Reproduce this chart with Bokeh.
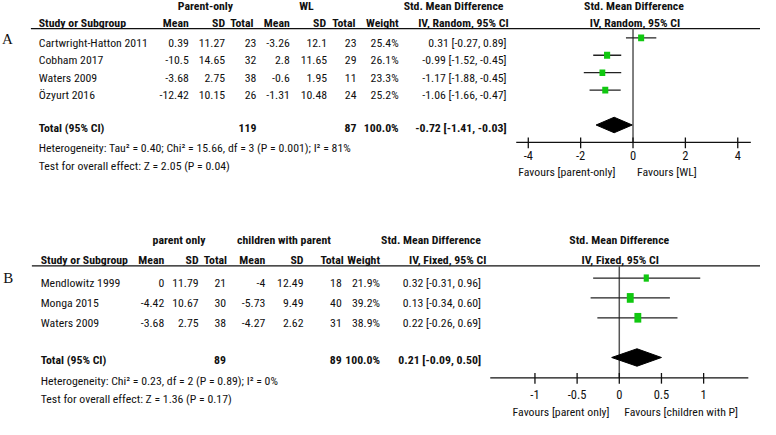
from bokeh.plotting import figure
from bokeh.models import Range1d
from bokeh.core.properties import value
from bokeh.embed import file_html
from bokeh.resources import INLINE

# ---------------- Panel A data ----------------
studies_a = ["Cartwright-Hatton 2011", "Cobham 2017", "Waters 2009", "Özyurt 2016"]
mean1_a = [0.39, -10.5, -3.68, -12.42]
sd1_a = [11.27, 14.65, 2.75, 10.15]
n1_a = [23, 32, 38, 26]
mean2_a = [-3.26, 2.8, -0.6, -1.31]
sd2_a = [12.1, 11.65, 1.95, 10.48]
n2_a = [23, 29, 11, 24]
weight_a = [25.4, 26.1, 23.3, 25.2]
smd_a = [0.31, -0.99, -1.17, -1.06]
lo_a = [-0.27, -1.52, -1.88, -1.66]
hi_a = [0.89, -0.45, -0.45, -0.47]
total_a = [-0.72, -1.41, -0.03]
total_n_a = [119, 87]
ticks_a = [-4, -2, 0, 2, 4]
groups_a = ["Parent-only", "WL"]
favours_a = ["Favours [parent-only]", "Favours [WL]"]
het_a = "Heterogeneity: Tau² = 0.40; Chi² = 15.66, df = 3 (P = 0.001); I² = 81%"
test_a = "Test for overall effect: Z = 2.05 (P = 0.04)"

# ---------------- Panel B data ----------------
studies_b = ["Mendlowitz 1999", "Monga 2015", "Waters 2009"]
mean1_b = [0, -4.42, -3.68]
sd1_b = [11.79, 10.67, 2.75]
n1_b = [21, 30, 38]
mean2_b = [-4, -5.73, -4.27]
sd2_b = [12.49, 9.49, 2.62]
n2_b = [18, 40, 31]
weight_b = [21.9, 39.2, 38.9]
smd_b = [0.32, 0.13, 0.22]
lo_b = [-0.31, -0.34, -0.26]
hi_b = [0.96, 0.60, 0.69]
total_b = [0.21, -0.09, 0.50]
total_n_b = [89, 89]
ticks_b = [-1, -0.5, 0, 0.5, 1]
groups_b = ["parent only", "children with parent"]
favours_b = ["Favours [parent only]", "Favours [children with P]"]
het_b = "Heterogeneity: Chi² = 0.23, df = 2 (P = 0.89); I² = 0%"
test_b = "Test for overall effect: Z = 1.36 (P = 0.17)"

FONT = "Roboto Condensed"
SERIF = "Liberation Serif"
GREEN = "#10c810"
INK = "#111111"
FS = "11.8px"

# page-layout frame (reference pixel units)
X0, X1 = 1.0, 776.0
Y0, Y1 = 0.5, 433.0

p = figure(width=760, height=419, x_range=Range1d(X0, X1), y_range=Range1d(Y1, Y0),
           output_backend="svg", toolbar_location=None, min_border=0,
           x_axis_location=None, y_axis_location=None, outline_line_color=None,
           title=None)
p.grid.visible = False

# forest-plot scales (SMD units): zero position and pixels per unit on the page
ZA, KA = 646.0, 26.7
ZB, KB = 632.0, 86.0
p.extra_x_ranges = {
    "fa": Range1d((X0 - ZA) / KA, (X1 - ZA) / KA),
    "fb": Range1d((X0 - ZB) / KB, (X1 - ZB) / KB),
}


def txt(x, y, texts, align="left", bold=False, size=FS, font=FONT, rng="default"):
    n = len(texts)
    xs = x if isinstance(x, list) else [x] * n
    ys = y if isinstance(y, list) else [y] * n
    p.text(x=xs, y=ys, text=texts, text_align=align, text_baseline="middle",
           text_font=value(font), text_font_size=size,
           text_font_style="bold" if bold else "normal", text_color=INK,
           x_range_name=rng)


def fmt(v):
    return f"{v:g}"


def ci(e, l, h):
    return f"{e:.2f} [{l:.2f}, {h:.2f}]"


def panel(label, label_xy, studies, m1, s1, n1, m2, s2, n2, w, smd, lo, hi, tot, tot_n,
          ticks, groups, favours, het, test, method, L, rng):
    rows = [L["row0"] + L["step"] * i for i in range(len(studies))]
    # panel label
    txt(label_xy[0], label_xy[1], [label], align="center", font=SERIF, size="15px")
    # group headers
    txt(L["g1"], L["h1"], [groups[0]], align="center", bold=True)
    txt(L["g2"], L["h1"], [groups[1]], align="center", bold=True)
    txt(L["smd_c"], L["h1"], ["Std. Mean Difference"], align="center", bold=True)
    txt(L["fsmd_c"], L["h1"], ["Std. Mean Difference"], align="center", bold=True)
    # column headers
    txt(L["name"], L["h2"], ["Study or Subgroup"], bold=True)
    hc = L["hcols"]
    txt(hc, L["h2"], ["Mean", "SD", "Total", "Mean", "SD", "Total", "Weight"], align="right", bold=True)
    txt(L["iv_c"], L["h2"], [method], align="center", bold=True)
    txt(L["fiv_c"], L["h2"], [method], align="center", bold=True)
    # header rule
    p.segment(x0=[L["rule0"]], y0=[L["rule"]], x1=[X1], y1=[L["rule"]], line_color=INK, line_width=1.3)
    # study rows
    c = L["cols"]
    txt(L["name"], rows, studies)
    txt(c[0], rows, [fmt(v) for v in m1], align="right")
    txt(c[1], rows, [fmt(v) for v in s1], align="right")
    txt(c[2], rows, [str(v) for v in n1], align="right")
    txt(c[3], rows, [fmt(v) for v in m2], align="right")
    txt(c[4], rows, [fmt(v) for v in s2], align="right")
    txt(c[5], rows, [str(v) for v in n2], align="right")
    txt(c[6], rows, [f"{v:.1f}%" for v in w], align="right")
    txt(c[7], rows, [ci(a, b, d) for a, b, d in zip(smd, lo, hi)], align="right")
    # total row
    ty = L["total"]
    txt(L["name"], ty, ["Total (95% CI)"], bold=True)
    txt(c[2], ty, [str(tot_n[0])], align="right", bold=True)
    txt(c[5], ty, [str(tot_n[1])], align="right", bold=True)
    txt(c[6], ty, [f"{sum(w):.1f}%"], align="right", bold=True)
    txt(c[7], ty, [ci(*tot)], align="right", bold=True)
    txt(L["name"], L["het"], [het])
    txt(L["name"], L["test"], [test])

    # forest plot
    ay = L["axis"]
    p.segment(x0=[0], y0=[L["rule"]], x1=[0], y1=[ay], line_color="#555555", line_width=1.5,
              x_range_name=rng)
    sy = [r - 5 for r in rows]
    p.segment(x0=lo, y0=sy, x1=hi, y1=sy, line_color="#222222", line_width=1.3, x_range_name=rng)
    p.rect(x=smd, y=sy, width=[L["kw"] * v ** 0.5 for v in w], height=[L["kh"] * v ** 0.5 for v in w],
           width_units="screen", height_units="screen", fill_color=GREEN, line_color=None,
           x_range_name=rng)
    dc, dh = L["diam"], L["dh"]
    p.patches(xs=[[tot[1], tot[0], tot[2], tot[0]]], ys=[[dc, dc - dh, dc, dc + dh]],
              fill_color="black", line_color="black", x_range_name=rng)
    # axis
    p.segment(x0=[L["ax_lo"]], y0=[ay], x1=[L["ax_hi"]], y1=[ay], line_color=INK, line_width=1.3,
              x_range_name=rng)
    p.segment(x0=ticks, y0=[ay - 5] * len(ticks), x1=ticks, y1=[ay + 6] * len(ticks),
              line_color=INK, line_width=1.3, x_range_name=rng)
    txt(ticks, L["tick_y"], [fmt(t) for t in ticks], align="center", rng=rng, size="12.5px")
    txt(L["fav_l"], L["fav_y"], [favours[0]], align="right")
    txt(L["fav_r"], L["fav_y"], [favours[1]], align="left")


LA = dict(row0=44, step=18, h1=6, h2=24, rule=29.5, rule0=32, name=40,
          g1=210, g2=313, smd_c=463, fsmd_c=647, iv_c=473, fiv_c=648,
          hcols=[193, 230, 259, 296, 333, 363, 407],
          cols=[193, 230, 262, 296, 334, 364, 407, 517],
          total=132, het=153, test=171, axis=147, tick_y=161, fav_y=178,
          fav_l=628, fav_r=650, ax_lo=-4.46, ax_hi=4.5, diam=129, dh=8,
          kw=1.2, kh=1.35)
LB = dict(row0=292, step=20.5, h1=248, h2=268, rule=274.5, rule0=33, name=42,
          g1=183, g2=290, smd_c=440, fsmd_c=632, iv_c=457, fiv_c=633,
          hcols=[168, 203, 232, 271, 310, 351, 388],
          cols=[168, 203, 231, 271, 310, 349, 388, 491],
          total=372, het=393, test=412, axis=390, tick_y=407, fav_y=425,
          fav_l=622, fav_r=637, ax_lo=-1.53, ax_hi=1.53, diam=369, dh=9,
          kw=1.1, kh=1.55)

panel("A", (8, 40), studies_a, mean1_a, sd1_a, n1_a, mean2_a, sd2_a, n2_a, weight_a,
      smd_a, lo_a, hi_a, total_a, total_n_a, ticks_a, groups_a, favours_a, het_a, test_a,
      "IV, Random, 95% CI", LA, "fa")
panel("B", (9, 287), studies_b, mean1_b, sd1_b, n1_b, mean2_b, sd2_b, n2_b, weight_b,
      smd_b, lo_b, hi_b, total_b, total_n_b, ticks_b, groups_b, favours_b, het_b, test_b,
      "IV, Fixed, 95% CI", LB, "fb")

open("out.html", "w").write(file_html(p, INLINE))
